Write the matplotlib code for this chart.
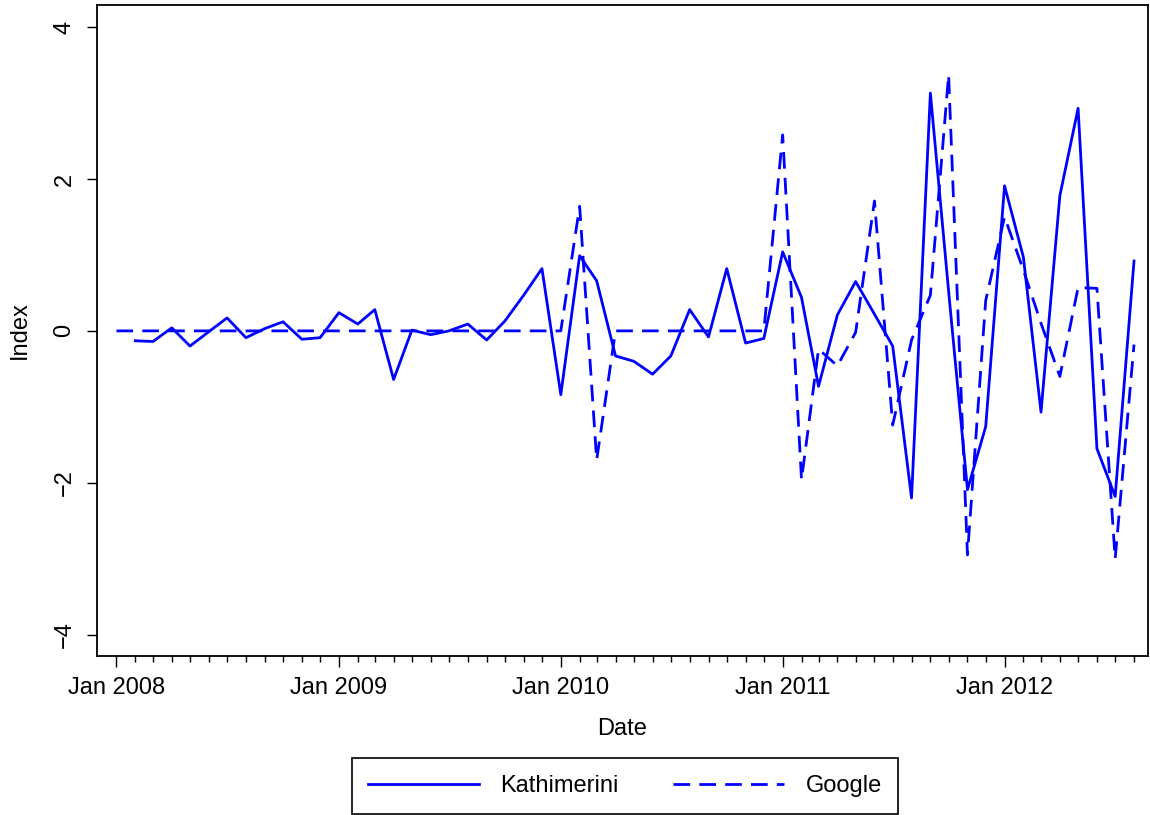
import numpy as np
import pandas as pd
import matplotlib
matplotlib.use("Agg")
import matplotlib.pyplot as plt
import matplotlib.dates as mdates

plt.rcParams['font.family'] = ['Liberation Sans', 'DejaVu Sans']

# monthly index values
kath_dates = pd.date_range('2008-02-01', '2012-08-01', freq='MS')
kathimerini = [-0.13, -0.14, 0.04, -0.20, -0.01, 0.17, -0.09, 0.03, 0.12, -0.11, -0.09,
               0.24, 0.09, 0.28, -0.64, 0.01, -0.05, 0.00, 0.09, -0.12, 0.13, 0.47, 0.82,
               -0.84, 0.99, 0.66, -0.33, -0.40, -0.57, -0.33, 0.28, -0.08, 0.82, -0.16, -0.10,
               1.04, 0.44, -0.73, 0.21, 0.65, 0.22, -0.20, -2.20, 3.13, 0.52, -2.09, -1.26,
               1.91, 0.97, -1.07, 1.78, 2.93, -1.55, -2.18, 0.92]

google_dates = pd.date_range('2008-01-01', '2012-08-01', freq='MS')
google = [0.0] * 25 + [1.64, -1.70] + [0.0] * 9 + [
    2.58, -1.96, -0.24, -0.46, -0.02, 1.71, -1.24, -0.12, 0.47, 3.37, -2.95,
    0.40, 1.50, 0.80, 0.10, -0.60, 0.57, 0.56, -3.00, -0.18]

y_ticks = [-4, -2, 0, 2, 4]

fig = plt.figure(figsize=(11.5, 8.15), dpi=100)
ax = fig.add_axes([97 / 1150, 1 - 656 / 815, 1051 / 1150, 651 / 815])

blue = '#0000ff'
ax.plot(kath_dates, kathimerini, color=blue, lw=2.0, label='Kathimerini')
ax.plot(google_dates, google, color=blue, lw=2.0, dashes=(6, 3.3),
        dash_capstyle='butt', label='Google')

ax.set_xlim(pd.Timestamp('2007-11-30'), pd.Timestamp('2012-08-24'))
ax.set_ylim(-4.28, 4.29)

major = [d for d in google_dates if d.month == 1]
ax.set_xticks(major)
ax.set_xticks(google_dates, minor=True)
ax.xaxis.set_major_formatter(mdates.DateFormatter('%b %Y'))
ax.set_yticks(y_ticks)
ax.set_yticklabels([str(v).replace('-', '\u2212') for v in y_ticks], rotation=90, va='center')

ax.tick_params(axis='x', which='major', length=8, width=1, pad=7, labelsize=17)
ax.tick_params(axis='x', which='minor', length=4, width=1)
ax.tick_params(axis='y', length=7.5, width=1, pad=8, labelsize=17)

for s in ax.spines.values():
    s.set_linewidth(1.3)

ax.set_xlabel('Date', fontsize=17, labelpad=14)
ax.set_ylabel('Index', fontsize=17, labelpad=16)

leg = fig.legend(loc='center', bbox_to_anchor=(625 / 1150, 1 - 786 / 815), ncol=2,
                 fontsize=17, handlelength=4.7, handletextpad=0.9, columnspacing=2.3,
                 fancybox=False, edgecolor='black', framealpha=1, borderpad=0.7)
leg.get_frame().set_linewidth(1.2)

fig.savefig('out.png', dpi=100)
